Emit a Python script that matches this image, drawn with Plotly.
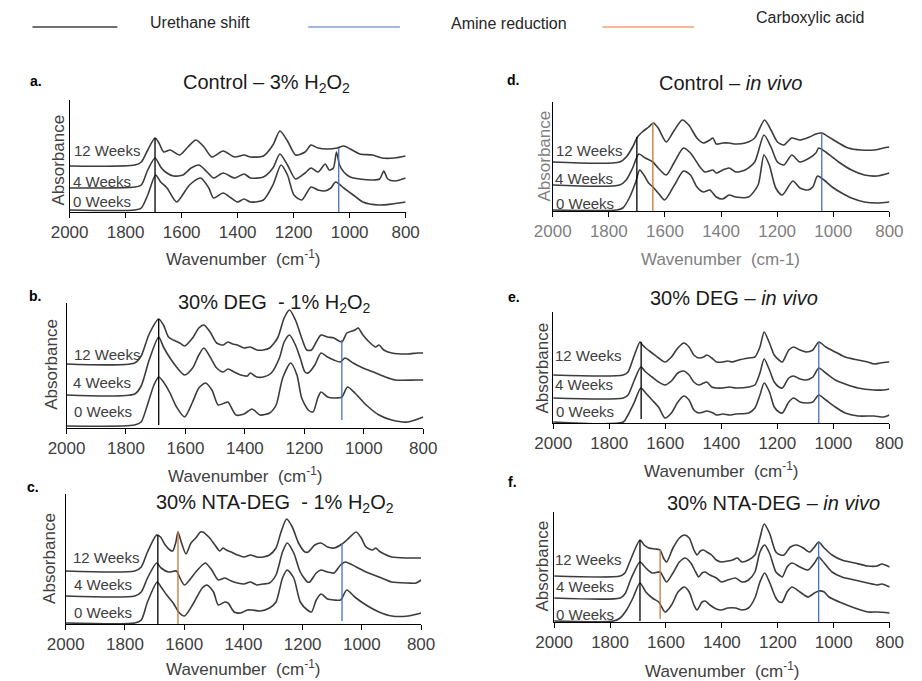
import plotly.graph_objects as go

W, H = 922, 681
FONT = "Liberation Sans, Arial, sans-serif"
NARROW = "Liberation Sans Narrow, Arial Narrow, Liberation Sans, Arial, sans-serif"

TICKS = [2000, 1800, 1600, 1400, 1200, 1000, 800]
WEEKS = ["0 Weeks", "4 Weeks", "12 Weeks"]

# ---------------- Panel a: Control - 3% H2O2 ----------------
A0_WN = [2000, 1767, 1744, 1721, 1693, 1675, 1652, 1618, 1572, 1532, 1503, 1486, 1452, 1423, 1400, 1377, 1354,
         1308, 1274, 1245, 1222, 1199, 1171, 1138, 1113, 1090, 1067, 1050, 1021, 987, 953, 895, 849, 800]
A0_AB = [0.02, 0.02, 0.04, 0.17, 0.37, 0.30, 0.24, 0.10, 0.27, 0.34, 0.24, 0.14, 0.19, 0.14, 0.10, 0.13, 0.10,
         0.12, 0.27, 0.47, 0.37, 0.17, 0.12, 0.25, 0.22, 0.21, 0.24, 0.30, 0.24, 0.17, 0.10, 0.07, 0.08, 0.10]
A4_WN = [2000, 1767, 1744, 1721, 1695, 1675, 1658, 1629, 1595, 1566, 1538, 1509, 1486, 1452, 1411, 1377, 1354,
         1308, 1274, 1249, 1222, 1193, 1159, 1138, 1113, 1087, 1073, 1058, 1047, 1036, 1021, 998, 964, 918, 893,
         878, 864, 838, 800]
A4_AB = [0.24, 0.25, 0.27, 0.42, 0.54, 0.45, 0.40, 0.36, 0.37, 0.44, 0.47, 0.40, 0.34, 0.39, 0.34, 0.38, 0.34,
         0.35, 0.44, 0.58, 0.47, 0.33, 0.39, 0.44, 0.40, 0.48, 0.42, 0.44, 0.60, 0.47, 0.40, 0.35, 0.33, 0.32, 0.33,
         0.41, 0.33, 0.31, 0.34]
A12_WN = [2000, 1767, 1744, 1721, 1695, 1681, 1664, 1641, 1607, 1578, 1549, 1520, 1492, 1452, 1411, 1377, 1354,
          1308, 1274, 1249, 1222, 1193, 1159, 1138, 1113, 1079, 1044, 1021, 998, 964, 918, 884, 840, 800]
A12_AB = [0.46, 0.47, 0.50, 0.62, 0.74, 0.69, 0.60, 0.62, 0.57, 0.65, 0.72, 0.65, 0.55, 0.61, 0.55, 0.57, 0.55,
          0.56, 0.67, 0.81, 0.71, 0.57, 0.60, 0.67, 0.64, 0.63, 0.64, 0.66, 0.63, 0.58, 0.57, 0.54, 0.54, 0.56]
A_MARK = [("urethane", 1695, 0.0, 0.74), ("amine", 1039, 0.0, 0.64)]

# ---------------- Panel b: 30% DEG - 1% H2O2 ----------------
B0_WN = [2000, 1771, 1749, 1728, 1706, 1690, 1674, 1652, 1630, 1603, 1576, 1555, 1533, 1511, 1490, 1468, 1457,
         1430, 1403, 1376, 1349, 1317, 1295, 1273, 1246, 1225, 1209, 1187, 1171, 1155, 1144, 1122, 1101, 1074,
         1055, 1030, 992, 949, 906, 852, 800]
B0_AB = [0.02, 0.03, 0.06, 0.23, 0.43, 0.51, 0.46, 0.35, 0.21, 0.11, 0.26, 0.40, 0.45, 0.38, 0.23, 0.25, 0.26,
         0.13, 0.14, 0.19, 0.13, 0.15, 0.23, 0.50, 0.65, 0.53, 0.30, 0.18, 0.16, 0.30, 0.36, 0.31, 0.30, 0.31,
         0.41, 0.35, 0.23, 0.13, 0.08, 0.06, 0.11]
B4_WN = [2000, 1771, 1749, 1722, 1690, 1674, 1652, 1630, 1603, 1576, 1555, 1538, 1517, 1495, 1473, 1457, 1436,
         1414, 1392, 1382, 1360, 1338, 1311, 1284, 1268, 1250, 1230, 1214, 1198, 1187, 1165, 1144, 1122, 1101,
         1079, 1063, 1036, 1003, 960, 928, 895, 825, 800]
B4_AB = [0.33, 0.34, 0.42, 0.68, 0.91, 0.81, 0.70, 0.61, 0.53, 0.60, 0.73, 0.80, 0.71, 0.60, 0.56, 0.59, 0.56,
         0.53, 0.52, 0.55, 0.51, 0.51, 0.55, 0.70, 0.86, 0.93, 0.83, 0.70, 0.56, 0.55, 0.63, 0.75, 0.71, 0.68,
         0.66, 0.70, 0.65, 0.60, 0.55, 0.51, 0.48, 0.48, 0.48]
B12_WN = [2000, 1771, 1749, 1722, 1690, 1674, 1657, 1641, 1619, 1603, 1576, 1555, 1538, 1517, 1495, 1473, 1457,
          1441, 1425, 1403, 1382, 1360, 1338, 1317, 1290, 1268, 1250, 1230, 1209, 1192, 1176, 1160, 1144, 1122,
          1101, 1074, 1057, 1030, 1019, 1003, 982, 960, 949, 933, 906, 852, 820, 800]
B12_AB = [0.64, 0.65, 0.72, 0.94, 1.09, 1.03, 0.91, 0.88, 0.85, 0.82, 0.90, 1.00, 1.03, 0.96, 0.85, 0.83, 0.86,
          0.84, 0.83, 0.80, 0.81, 0.78, 0.78, 0.80, 0.90, 1.10, 1.18, 1.08, 0.90, 0.78, 0.78, 0.86, 0.93, 0.91,
          0.90, 0.86, 0.95, 0.98, 1.00, 0.93, 0.86, 0.81, 0.83, 0.78, 0.75, 0.74, 0.75, 0.75]
B_MARK = [("urethane", 1690, 0.03, 1.09), ("amine", 1074, 0.08, 0.88)]

# ---------------- Panel c: 30% NTA-DEG - 1% H2O2 ----------------
C0_WN = [2000, 1767, 1745, 1724, 1691, 1678, 1659, 1637, 1616, 1599, 1572, 1539, 1523, 1501, 1485, 1463, 1452,
         1431, 1409, 1387, 1371, 1344, 1312, 1290, 1268, 1252, 1230, 1208, 1184, 1170, 1154, 1138, 1116, 1094,
         1072, 1051, 1024, 986, 942, 899, 844, 800]
C0_AB = [0.01, 0.01, 0.04, 0.22, 0.42, 0.37, 0.29, 0.21, 0.11, 0.08, 0.19, 0.36, 0.39, 0.32, 0.19, 0.22, 0.21,
         0.12, 0.11, 0.14, 0.14, 0.13, 0.16, 0.22, 0.46, 0.54, 0.46, 0.22, 0.14, 0.12, 0.24, 0.30, 0.25, 0.24,
         0.24, 0.34, 0.27, 0.19, 0.12, 0.08, 0.08, 0.11]
C4_WN = [2000, 1767, 1745, 1724, 1693, 1678, 1653, 1626, 1616, 1599, 1561, 1539, 1528, 1507, 1485, 1463, 1441,
         1420, 1398, 1376, 1355, 1333, 1312, 1290, 1268, 1252, 1230, 1208, 1184, 1176, 1154, 1138, 1116, 1094,
         1072, 1056, 1019, 986, 942, 899, 844, 817, 800]
C4_AB = [0.28, 0.28, 0.32, 0.46, 0.61, 0.56, 0.52, 0.53, 0.47, 0.39, 0.52, 0.59, 0.61, 0.54, 0.44, 0.46, 0.43,
         0.41, 0.40, 0.42, 0.39, 0.40, 0.41, 0.49, 0.72, 0.81, 0.71, 0.52, 0.42, 0.42, 0.51, 0.54, 0.52, 0.51,
         0.59, 0.62, 0.57, 0.52, 0.47, 0.42, 0.41, 0.41, 0.44]
C12_WN = [2000, 1767, 1745, 1724, 1693, 1680, 1664, 1648, 1639, 1628, 1621, 1610, 1594, 1577, 1561, 1545, 1537,
          1517, 1496, 1480, 1469, 1458, 1441, 1420, 1398, 1376, 1355, 1333, 1312, 1290, 1273, 1254, 1235, 1214,
          1192, 1181, 1159, 1138, 1116, 1094, 1067, 1051, 1019, 1002, 986, 964, 953, 942, 931, 899, 844, 800]
C12_AB = [0.53, 0.53, 0.57, 0.72, 0.89, 0.87, 0.79, 0.74, 0.73, 0.82, 0.92, 0.82, 0.70, 0.81, 0.86, 0.92, 0.92,
          0.87, 0.79, 0.73, 0.76, 0.74, 0.72, 0.69, 0.67, 0.69, 0.67, 0.67, 0.69, 0.76, 0.92, 1.05, 0.97, 0.81,
          0.72, 0.72, 0.79, 0.81, 0.77, 0.76, 0.80, 0.84, 0.92, 0.86, 0.77, 0.74, 0.76, 0.73, 0.71, 0.67, 0.66, 0.66]
C_MARK = [("urethane", 1689, 0.0, 0.89), ("acid", 1621, 0.0, 0.93), ("amine", 1067, 0.03, 0.81)]

# ---------------- Panel d: Control - in vivo ----------------
D0_WN = [2000, 1772, 1750, 1727, 1704, 1690, 1675, 1658, 1643, 1624, 1601, 1566, 1534, 1509, 1486, 1463, 1440,
         1417, 1394, 1371, 1348, 1302, 1268, 1247, 1228, 1205, 1182, 1144, 1119, 1090, 1073, 1056, 1033, 1004,
         970, 935, 889, 844, 800]
D0_AB = [0.01, 0.01, 0.03, 0.13, 0.29, 0.41, 0.36, 0.28, 0.24, 0.18, 0.11, 0.26, 0.40, 0.36, 0.24, 0.19, 0.21,
         0.14, 0.12, 0.16, 0.14, 0.14, 0.26, 0.56, 0.46, 0.23, 0.16, 0.30, 0.23, 0.21, 0.24, 0.35, 0.31, 0.24,
         0.18, 0.13, 0.09, 0.08, 0.09]
D4_WN = [2000, 1761, 1738, 1715, 1693, 1670, 1643, 1624, 1595, 1566, 1534, 1509, 1475, 1457, 1429, 1417, 1394,
         1371, 1348, 1314, 1280, 1247, 1222, 1199, 1176, 1148, 1119, 1085, 1062, 1052, 1027, 981, 935, 889, 844, 800]
D4_AB = [0.26, 0.26, 0.31, 0.43, 0.57, 0.53, 0.49, 0.43, 0.36, 0.49, 0.63, 0.58, 0.44, 0.39, 0.41, 0.38, 0.41,
         0.43, 0.39, 0.41, 0.49, 0.76, 0.64, 0.49, 0.46, 0.56, 0.49, 0.53, 0.58, 0.63, 0.59, 0.49, 0.41, 0.36,
         0.35, 0.38]
D12_WN = [2000, 1761, 1738, 1715, 1698, 1681, 1658, 1641, 1624, 1595, 1566, 1538, 1515, 1486, 1463, 1440, 1429,
          1417, 1394, 1371, 1348, 1314, 1280, 1245, 1222, 1199, 1176, 1148, 1119, 1085, 1062, 1041, 1016, 981,
          947, 901, 855, 821, 800]
D12_AB = [0.49, 0.49, 0.54, 0.64, 0.74, 0.79, 0.84, 0.88, 0.83, 0.69, 0.81, 0.91, 0.86, 0.73, 0.68, 0.71, 0.73,
          0.67, 0.68, 0.68, 0.67, 0.68, 0.73, 0.91, 0.81, 0.69, 0.66, 0.73, 0.71, 0.74, 0.77, 0.78, 0.74, 0.68,
          0.63, 0.61, 0.61, 0.63, 0.64]
D_MARK = [("urethane", 1700, 0.0, 0.74), ("acid", 1643, 0.0, 0.88), ("amine", 1041, 0.0, 0.78)]

# ---------------- Panel e: 30% DEG - in vivo ----------------
E0_WN = [2000, 1750, 1733, 1710, 1687, 1670, 1647, 1624, 1601, 1578, 1555, 1534, 1515, 1498, 1480, 1463, 1452,
         1429, 1417, 1394, 1371, 1348, 1302, 1280, 1262, 1247, 1228, 1211, 1194, 1182, 1159, 1142, 1119, 1096,
         1073, 1052, 1027, 993, 958, 912, 855, 821, 800]
E0_AB = [0.01, 0.01, 0.08, 0.21, 0.35, 0.30, 0.23, 0.16, 0.05, 0.10, 0.21, 0.27, 0.23, 0.13, 0.10, 0.11, 0.12,
         0.10, 0.08, 0.09, 0.08, 0.09, 0.10, 0.15, 0.28, 0.40, 0.31, 0.16, 0.11, 0.10, 0.21, 0.25, 0.21, 0.20,
         0.21, 0.28, 0.23, 0.16, 0.10, 0.07, 0.07, 0.06, 0.08]
E4_WN = [2000, 1750, 1733, 1710, 1687, 1670, 1647, 1624, 1601, 1578, 1555, 1534, 1515, 1498, 1480, 1463, 1452,
         1434, 1417, 1394, 1371, 1348, 1302, 1280, 1262, 1247, 1228, 1211, 1194, 1182, 1159, 1142, 1119, 1096,
         1073, 1052, 1027, 993, 958, 912, 855, 821, 800]
E4_AB = [0.25, 0.25, 0.28, 0.43, 0.56, 0.51, 0.46, 0.41, 0.38, 0.42, 0.50, 0.52, 0.48, 0.41, 0.38, 0.40, 0.41,
         0.36, 0.35, 0.35, 0.36, 0.35, 0.36, 0.38, 0.50, 0.64, 0.53, 0.41, 0.36, 0.35, 0.45, 0.47, 0.44, 0.43,
         0.46, 0.55, 0.50, 0.43, 0.39, 0.35, 0.33, 0.33, 0.34]
E12_WN = [2000, 1750, 1733, 1710, 1690, 1681, 1670, 1647, 1624, 1601, 1578, 1555, 1534, 1515, 1498, 1480, 1463,
          1452, 1434, 1417, 1394, 1377, 1360, 1337, 1302, 1280, 1262, 1247, 1228, 1211, 1194, 1182, 1159, 1142,
          1119, 1096, 1073, 1052, 1027, 993, 958, 912, 878, 855, 832, 800]
E12_AB = [0.48, 0.48, 0.51, 0.68, 0.81, 0.78, 0.75, 0.70, 0.65, 0.61, 0.66, 0.75, 0.80, 0.76, 0.68, 0.65, 0.66,
          0.68, 0.65, 0.61, 0.61, 0.62, 0.61, 0.63, 0.65, 0.66, 0.76, 0.91, 0.80, 0.68, 0.63, 0.61, 0.73, 0.76,
          0.73, 0.71, 0.73, 0.81, 0.76, 0.71, 0.66, 0.63, 0.61, 0.59, 0.60, 0.61]
E_MARK = [("urethane", 1686, 0.04, 0.81), ("amine", 1052, 0.0, 0.81)]

# ---------------- Panel f: 30% NTA-DEG - in vivo ----------------
F0_WN = [2000, 1787, 1764, 1741, 1718, 1693, 1672, 1649, 1626, 1603, 1580, 1557, 1534, 1517, 1500, 1489, 1471,
         1460, 1443, 1420, 1402, 1379, 1351, 1328, 1305, 1282, 1264, 1247, 1230, 1207, 1195, 1184, 1167, 1149,
         1121, 1092, 1069, 1054, 1034, 1017, 971, 925, 879, 845, 800]
F0_AB = [0.01, 0.01, 0.04, 0.12, 0.24, 0.39, 0.30, 0.24, 0.20, 0.10, 0.17, 0.30, 0.35, 0.30, 0.17, 0.12, 0.20,
         0.21, 0.17, 0.13, 0.12, 0.14, 0.14, 0.12, 0.14, 0.24, 0.40, 0.49, 0.40, 0.24, 0.20, 0.20, 0.30, 0.35,
         0.30, 0.25, 0.29, 0.31, 0.30, 0.25, 0.19, 0.14, 0.10, 0.10, 0.09]
F4_WN = [2000, 1764, 1747, 1724, 1693, 1672, 1649, 1621, 1598, 1575, 1552, 1531, 1511, 1494, 1483, 1471, 1460,
         1443, 1420, 1402, 1379, 1351, 1328, 1305, 1282, 1264, 1247, 1230, 1207, 1195, 1184, 1167, 1149, 1121,
         1092, 1069, 1054, 1034, 1006, 971, 925, 879, 845, 828, 800]
F4_AB = [0.24, 0.24, 0.28, 0.44, 0.60, 0.54, 0.49, 0.50, 0.40, 0.49, 0.60, 0.64, 0.59, 0.50, 0.45, 0.49, 0.50,
         0.47, 0.44, 0.40, 0.42, 0.44, 0.40, 0.42, 0.50, 0.70, 0.77, 0.69, 0.50, 0.47, 0.45, 0.55, 0.59, 0.55,
         0.52, 0.59, 0.65, 0.59, 0.50, 0.45, 0.42, 0.39, 0.37, 0.38, 0.35]
F12_WN = [2000, 1764, 1747, 1724, 1693, 1678, 1661, 1638, 1621, 1609, 1598, 1575, 1552, 1534, 1517, 1500, 1489,
          1477, 1466, 1454, 1437, 1420, 1402, 1379, 1362, 1345, 1328, 1305, 1282, 1264, 1249, 1230, 1207, 1190,
          1178, 1155, 1132, 1109, 1086, 1069, 1054, 1034, 1006, 971, 925, 879, 845, 828, 800]
F12_AB = [0.46, 0.46, 0.49, 0.64, 0.82, 0.77, 0.74, 0.73, 0.72, 0.64, 0.60, 0.74, 0.84, 0.87, 0.84, 0.72, 0.67,
          0.71, 0.72, 0.70, 0.67, 0.62, 0.60, 0.61, 0.62, 0.64, 0.60, 0.62, 0.67, 0.84, 0.98, 0.89, 0.70, 0.67,
          0.67, 0.75, 0.77, 0.74, 0.70, 0.75, 0.80, 0.74, 0.67, 0.62, 0.59, 0.56, 0.56, 0.58, 0.55]
F_MARK = [("urethane", 1693, 0.01, 0.82), ("acid", 1621, 0.03, 0.72), ("amine", 1054, 0.0, 0.80)]

MARK_COLORS = {"urethane": "#000000", "amine": "#4472C4", "acid": "#C97634"}

# ---------------- layout geometry (pixels) ----------------
PANELS = [
    dict(key="a", box=(52.5, 401.0, 100, 212), data=[(A0_WN, A0_AB), (A4_WN, A4_AB), (A12_WN, A12_AB)], marks=A_MARK,
         title="Control – 3% H<sub>2</sub>O<sub>2</sub>", tpos=(257, 83), lpos=(18, 81),
         weeks=[(86, 202), (86, 181), (91, 151)], ylab=(40, 160), xlab=(232, 258),
         xtitle="Wavenumber  (cm<sup>-1</sup>)", grey=False),
    dict(key="b", box=(49.3, 419.3, 303, 428), data=[(B0_WN, B0_AB), (B4_WN, B4_AB), (B12_WN, B12_AB)], marks=B_MARK,
         title="30% DEG  - 1% H<sub>2</sub>O<sub>2</sub>", tpos=(265, 303), lpos=(17, 296),
         weeks=[(87, 411), (86, 382), (91, 354)], ylab=(33, 364), xlab=(234, 475),
         xtitle="Wavenumber  (cm<sup>-1</sup>)", grey=False),
    dict(key="c", box=(48.5, 417.0, 494, 624), data=[(C0_WN, C0_AB), (C4_WN, C4_AB), (C12_WN, C12_AB)], marks=C_MARK,
         title="30% NTA-DEG  - 1% H<sub>2</sub>O<sub>2</sub>", tpos=(266, 503), lpos=(15, 487),
         weeks=[(87, 612), (87, 584), (90, 557)], ylab=(31, 558), xlab=(232, 668),
         xtitle="Wavenumber  (cm<sup>-1</sup>)", grey=False),
    dict(key="d", box=(553.5, 902.7, 102, 211), data=[(D0_WN, D0_AB), (D4_WN, D4_AB), (D12_WN, D12_AB)], marks=D_MARK,
         title="Control – <i>in vivo</i>", tpos=(738, 83), lpos=(512, 80),
         weeks=[(587, 203), (586, 178), (591, 151)], ylab=(545, 156), xlab=(728, 259),
         xtitle="Wavenumber  (cm-1)", grey=True),
    dict(key="e", box=(554.0, 902.7, 312, 423), data=[(E0_WN, E0_AB), (E4_WN, E4_AB), (E12_WN, E12_AB)], marks=E_MARK,
         title="30% DEG – <i>in vivo</i>", tpos=(742, 298), lpos=(513, 297),
         weeks=[(587, 411), (586, 385), (590, 356)], ylab=(542, 368), xlab=(728, 470),
         xtitle="Wavenumber  (cm<sup>-1</sup>)", grey=False),
    dict(key="f", box=(555.0, 903.0, 512, 622), data=[(F0_WN, F0_AB), (F4_WN, F4_AB), (F12_WN, F12_AB)], marks=F_MARK,
         title="30% NTA-DEG – <i>in vivo</i>", tpos=(782, 503), lpos=(512, 482),
         weeks=[(587, 614), (587, 586), (590, 559)], ylab=(542, 566), xlab=(729, 670),
         xtitle="Wavenumber  (cm<sup>-1</sup>)", grey=False),
]


def paper(x, y):
    return x / W, 1 - y / H


fig = go.Figure()
annotations = []
shapes = []
layout_axes = {}

for i, p in enumerate(PANELS, start=1):
    x0, x1, yt, yb = p["box"]
    xa = "x" if i == 1 else f"x{i}"
    ya = "y" if i == 1 else f"y{i}"
    xname = "xaxis" if i == 1 else f"xaxis{i}"
    yname = "yaxis" if i == 1 else f"yaxis{i}"
    txt_col = "#7f7f7f" if p["grey"] else "#404040"
    layout_axes[xname] = dict(
        domain=[x0 / W, x1 / W], anchor=ya, range=[2000, 800], tickvals=TICKS,
        ticktext=[str(t) for t in TICKS], ticks="outside", ticklen=5, tickwidth=1, tickcolor="#000",
        showline=True, linecolor="#000", linewidth=1, showgrid=False, zeroline=False,
        tickfont=dict(family=FONT, size=17, color=txt_col), fixedrange=True)
    layout_axes[yname] = dict(
        domain=[1 - yb / H, 1 - yt / H], anchor=xa, range=[0, (yb - yt) / 100.0],
        showline=True, linecolor="#000", linewidth=1, showgrid=False, zeroline=False,
        showticklabels=False, ticks="", fixedrange=True)

    for wn, ab in p["data"]:
        if len(wn) != len(ab):
            raise ValueError(f"length mismatch in panel {p['key']}")
        fig.add_trace(go.Scatter(x=wn, y=ab, xaxis=xa, yaxis=ya, mode="lines",
                                 line=dict(color="#3c3c3c", width=1.6, shape="spline", smoothing=0.7),
                                 showlegend=False, hoverinfo="skip"))
    for kind, wn, lo, hi in p["marks"]:
        fig.add_trace(go.Scatter(x=[wn, wn], y=[lo, hi], xaxis=xa, yaxis=ya, mode="lines",
                                 line=dict(color=MARK_COLORS[kind], width=1.3),
                                 showlegend=False, hoverinfo="skip"))

    tx, ty = paper(*p["tpos"])
    annotations.append(dict(x=tx, y=ty, xref="paper", yref="paper", text=p["title"], showarrow=False,
                            xanchor="center", yanchor="middle",
                            font=dict(family=FONT, size=20, color="#1a1a1a")))
    lx, ly = paper(*p["lpos"])
    annotations.append(dict(x=lx, y=ly, xref="paper", yref="paper", text=f"<b>{p['key']}.</b>", showarrow=False,
                            xanchor="center", yanchor="middle", font=dict(family=FONT, size=14, color="#000")))
    for (wx, wy), lab in zip(p["weeks"], WEEKS):
        ax_, ay_ = paper(wx, wy)
        annotations.append(dict(x=ax_, y=ay_, xref="paper", yref="paper", text=lab, showarrow=False,
                                xanchor="center", yanchor="middle",
                                font=dict(family=FONT, size=15, color="#404040")))
    yx, yy = paper(*p["ylab"])
    annotations.append(dict(x=yx, y=yy, xref="paper", yref="paper", text="Absorbance", showarrow=False,
                            textangle=-90, xanchor="center", yanchor="middle",
                            font=dict(family=FONT, size=17, color=txt_col)))
    xx, xy = paper(*p["xlab"])
    annotations.append(dict(x=xx, y=xy, xref="paper", yref="paper", text=p["xtitle"], showarrow=False,
                            xanchor="center", yanchor="middle",
                            font=dict(family=FONT, size=17, color=txt_col)))

# ---------------- top legend ----------------
LEGEND_ITEMS = [("Urethane shift", "#404040", (14, 102, 27), (188, 22)),
                ("Amine reduction", "#7F9FD8", (300, 395, 27), (508, 23)),
                ("Carboxylic acid", "#F2A273", (605, 700, 27), (820, 18))]
for label, col, (lx0, lx1, ly), (tx, ty) in LEGEND_ITEMS:
    a0, b0 = paper(lx0, ly)
    a1, b1 = paper(lx1, ly)
    shapes.append(dict(type="line", xref="paper", yref="paper", x0=a0, x1=a1, y0=b0, y1=b1,
                       line=dict(color=col, width=1.5)))
    px_, py_ = paper(tx, ty)
    annotations.append(dict(x=px_, y=py_, xref="paper", yref="paper", text=label, showarrow=False,
                            xanchor="center", yanchor="middle",
                            font=dict(family=NARROW, size=16, color="#262626")))

fig.update_layout(width=W, height=H, margin=dict(l=0, r=0, t=0, b=0), paper_bgcolor="white",
                  plot_bgcolor="white", showlegend=False, annotations=annotations, shapes=shapes,
                  **layout_axes)

fig.write_html("out.html")
